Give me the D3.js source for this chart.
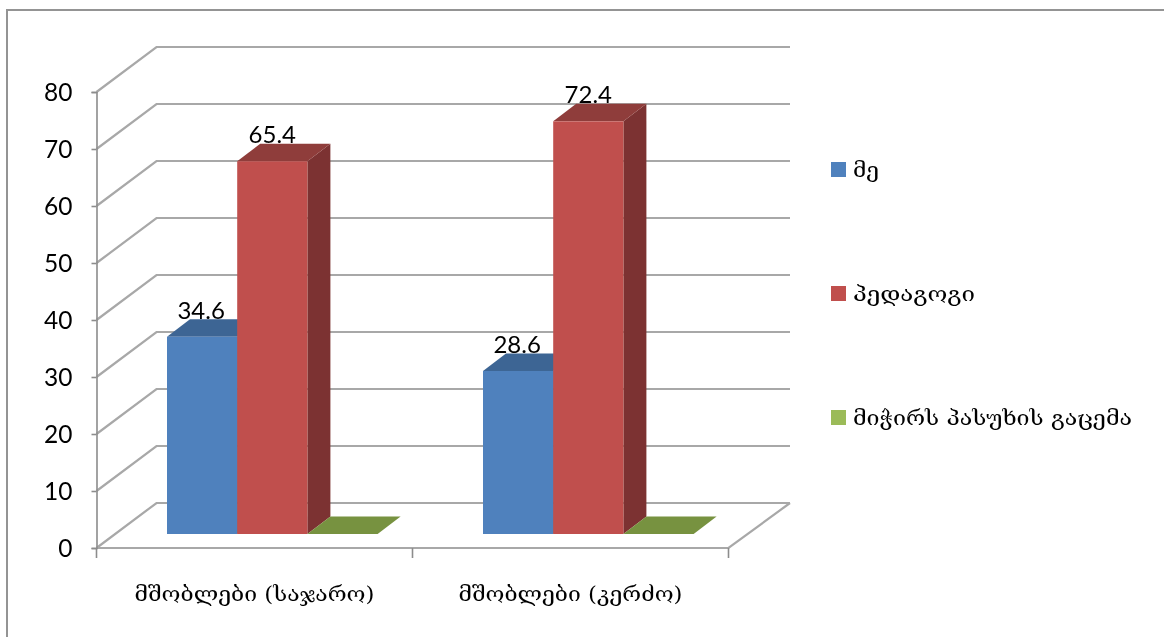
<!DOCTYPE html>
<html><head><meta charset="utf-8">
<script src="https://cdn.jsdelivr.net/npm/d3@7"></script>
<style>html,body{margin:0;padding:0;background:#fff}svg{display:block}text{fill:#000}.ka{font-family:"DejaVu Serif","DejaVu Sans",serif}.num{font-family:Lato,"Open Sans",sans-serif}</style>
</head><body><svg id="c" width="1164" height="637"></svg>
<script>
const categories=["მშობლები (საჯარო)","მშობლები (კერძო)"];
const seriesNames=["მე","პედაგოგი","მიჭირს პასუხის გაცემა"];
const me=[34.6,28.6];
const pedagogue=[65.4,72.4];
const hardToAnswer=[0,0];
const tickValues=[0,10,20,30,40,50,60,70,80];
const seriesValues=[me,pedagogue,hardToAnswer];
const colors=[{front:"#4f81bd",top:"#3d6594",side:"#385d8a"},{front:"#c0504d",top:"#8f3c3a",side:"#7c3230"},{front:"#9bbb59",top:"#77923f",side:"#6f8a3a"}];
const W=1164,H=637;
const svg=d3.select("#c");
const defs=svg.append("defs");
defs.append("filter").attr("id","soft").attr("filterUnits","userSpaceOnUse").attr("x",0).attr("y",0).attr("width",W).attr("height",H).append("feGaussianBlur").attr("stdDeviation",0.45);
const root=svg.append("g").attr("filter","url(#soft)");
root.append("rect").attr("x",0).attr("y",0).attr("width",W).attr("height",H).attr("fill","#fff");
root.append("rect").attr("x",7).attr("y",10).attr("width",W+10).attr("height",H+10).attr("fill","#fff").attr("stroke","#949494").attr("stroke-width",2);
const x0=96.5,x1=728.5,yBase=548,yTop=92;
const dx=60,dy=-45,backR=790;
const y=d3.scaleLinear().domain([0,80]).range([yBase,yTop]);
const x=d3.scaleBand().domain(categories).range([x0,x1]);
const gridC="#a8a8a8",axC="#8c8c8c";
const g=root.append("g");
tickValues.forEach(t=>{
 g.append("path").attr("d",`M${x0},${y(t)}L${x0+dx},${y(t)+dy}L${backR},${y(t)+dy}`).attr("fill","none").attr("stroke",gridC).attr("stroke-width",2.2);
});
g.append("path").attr("d",`M${x0},${yBase}L${x1},${yBase}L${backR},${yBase+dy}`).attr("fill","none").attr("stroke",gridC).attr("stroke-width",2.2);
const axY=d3.axisLeft(y).tickValues(tickValues).tickSize(5).tickPadding(19);
const ay=root.append("g").attr("transform",`translate(${x0},0)`).call(axY);
ay.selectAll("path,line").attr("stroke",axC).attr("stroke-width",1.6);
ay.selectAll("text").attr("class","num").attr("font-size",24.5).attr("font-family",null).attr("dy","0.36em");
const ax=root.append("g").attr("transform",`translate(0,${yBase})`);
[x0,x0+x.bandwidth(),x1].forEach(v=>ax.append("line").attr("x1",v).attr("x2",v).attr("y1",0).attr("y2",10).attr("stroke",axC).attr("stroke-width",1.6));
categories.forEach((c,i)=>ax.append("text").attr("class","ka").attr("x",x(c)+x.bandwidth()/2).attr("y",53).attr("text-anchor","middle").attr("font-size",21).attr("textLength",[240,224][i]).attr("lengthAdjust","spacingAndGlyphs").text(c));
const barW=70.2,barOff=70.5,depthX=23,depthY=-17.5,baseY=534;
const hScale=d3.scaleLinear().domain([0,80]).range([0,yBase-yTop]);
categories.forEach((c,ci)=>{
 seriesValues.forEach((vals,si)=>{
  const v=vals[ci],l=x(c)+barOff+si*barW,r=l+barW,t=baseY-hScale(v),col=colors[si];
  const bg=root.append("g");
  bg.append("path").attr("d",`M${r},${t}L${r+depthX},${t+depthY}L${r+depthX},${baseY+depthY}L${r},${baseY}Z`).attr("fill",col.side);
  bg.append("path").attr("d",`M${l},${t}L${l+depthX},${t+depthY}L${r+depthX},${t+depthY}L${r},${t}Z`).attr("fill",col.top);
  if(v>0){bg.append("rect").attr("x",l).attr("y",t).attr("width",barW).attr("height",baseY-t).attr("fill",col.front);}
 });
});
categories.forEach((c,ci)=>{
 seriesValues.forEach((vals,si)=>{
  const v=vals[ci],l=x(c)+barOff+si*barW,t=baseY-hScale(v);
  if(v>0) root.append("text").attr("class","num").attr("x",l+barW/2+(si==0?-1:0)).attr("y",t-18).attr("text-anchor","middle").attr("font-size",24).text(v.toFixed(1));
 });
});
const legY=d3.scalePoint().domain(seriesNames).range([169.5,417.5]);
const legLen=[26,122,279];
seriesNames.forEach((n,i)=>{
 root.append("rect").attr("x",831).attr("y",legY(n)-7.5).attr("width",15).attr("height",15).attr("fill",colors[i].front);
 root.append("text").attr("class","ka").attr("x",853).attr("y",legY(n)+7.5).attr("font-size",21).attr("textLength",legLen[i]).attr("lengthAdjust","spacingAndGlyphs").text(n);
});
</script></body></html>
